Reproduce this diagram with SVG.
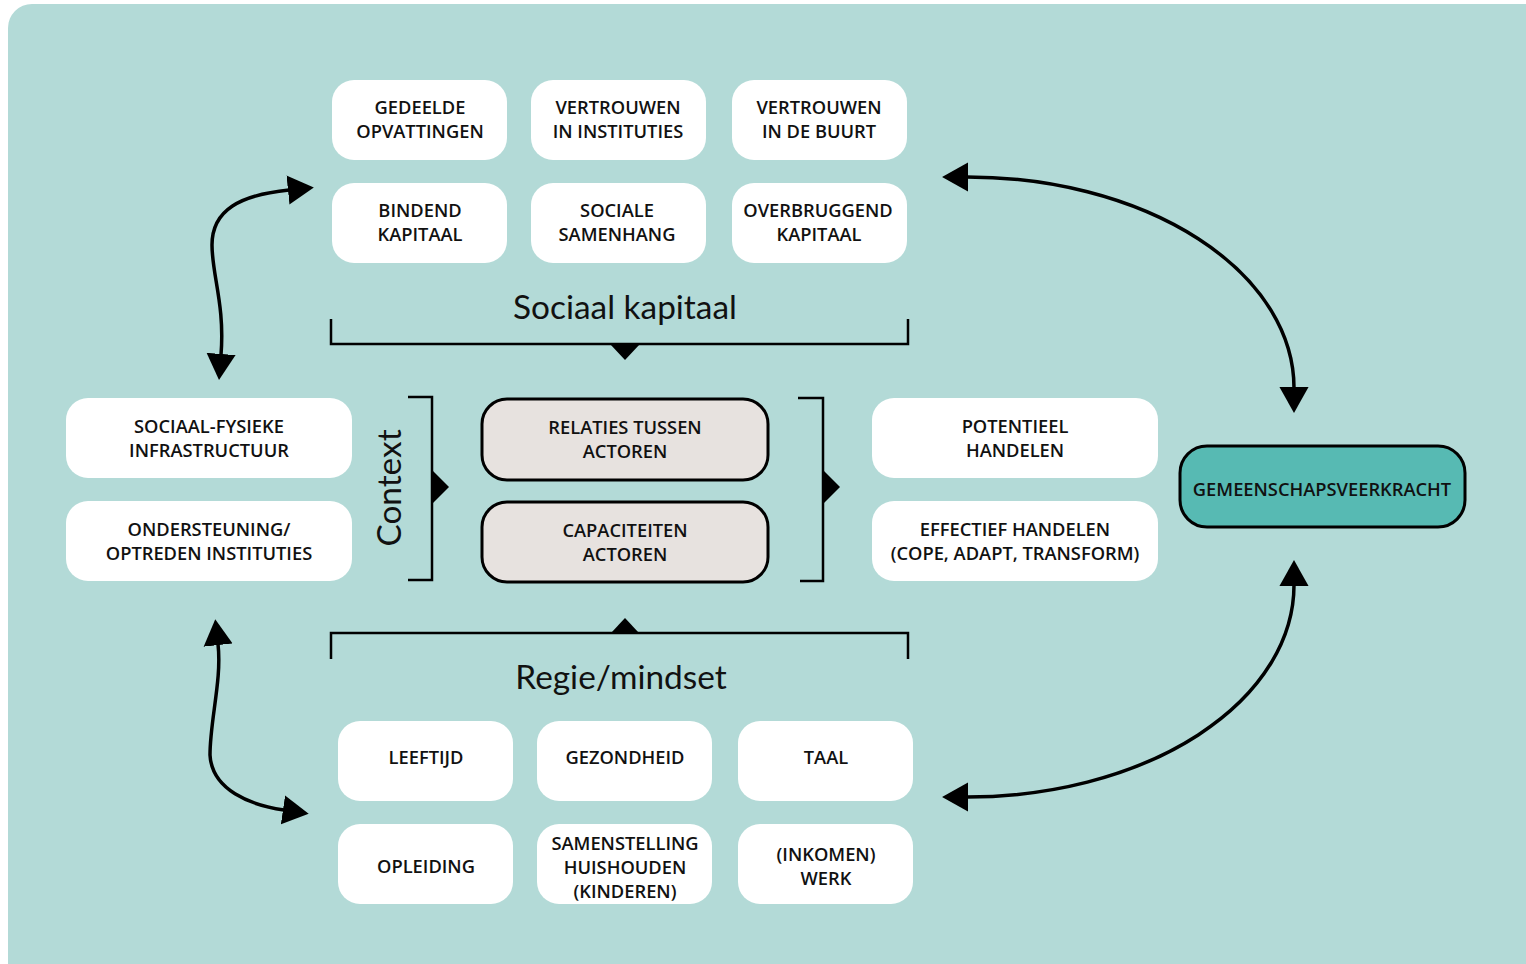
<svg xmlns="http://www.w3.org/2000/svg" width="1526" height="964" viewBox="0 0 1526 964">
<defs>
<style>
.bg{fill:#b3dad7}
.box{fill:#ffffff}
.core{fill:#e7e2df;stroke:#000;stroke-width:3}
.res{fill:#57bab3;stroke:#000;stroke-width:3}
.t{font-family:"Open Sans","Noto Sans",sans-serif;font-weight:600;font-size:18.3px;fill:#111;text-anchor:middle}
.h{font-family:"Lato","Noto Sans",sans-serif;font-weight:400;font-size:33.4px;fill:#111;text-anchor:middle}
.br{fill:none;stroke:#000;stroke-width:2.5}
.con{fill:none;stroke:#000;stroke-width:3.5}
</style>
<marker id="ah" markerUnits="userSpaceOnUse" markerWidth="26" markerHeight="30" viewBox="0 0 25 28" refX="1" refY="14" orient="auto-start-reverse">
<path d="M0,0 L25,14 L0,28 Z" fill="#000"/>
</marker>
</defs>
<rect class="bg" x="8" y="4" width="1545" height="990" rx="24"/>

<g id="sociaal-kapitaal-brace">
<text class="h" x="625" y="319">Sociaal kapitaal</text>
<path class="br" d="M331,319 V344 H908 V319"/>
<path d="M610,344 L640,344 L625,360 Z" fill="#000"/>
</g>
<g id="regie-brace">
<path class="br" d="M331,659 V633 H908 V659"/>
<path d="M611,633 L639,633 L625,618 Z" fill="#000"/>
<text class="h" x="621" y="689">Regie/mindset</text>
</g>
<g id="context-brace">
<text class="h" transform="translate(401,488) rotate(-90)" x="0" y="0">Context</text>
<path class="br" d="M408,397 H432 V580 H408"/>
<path d="M432,470 L449,487 L432,504 Z" fill="#000"/>
</g>
<g id="outcome-brace">
<path class="br" d="M798,398 H823 V581 H800"/>
<path d="M823,470 L840,487 L823,504 Z" fill="#000"/>
</g>

<g id="gedeelde-opvattingen"><rect class="box" x="332" y="80" width="175" height="80" rx="22"/><text class="t" x="420" y="113.5">GEDEELDE</text><text class="t" x="420" y="137.5">OPVATTINGEN</text></g>
<g id="vertrouwen-instituties"><rect class="box" x="531" y="80" width="175" height="80" rx="22"/><text class="t" x="618" y="113.5">VERTROUWEN</text><text class="t" x="618" y="137.5">IN INSTITUTIES</text></g>
<g id="vertrouwen-buurt"><rect class="box" x="732" y="80" width="175" height="80" rx="22"/><text class="t" x="819" y="113.5">VERTROUWEN</text><text class="t" x="819" y="137.5">IN DE BUURT</text></g>
<g id="bindend-kapitaal"><rect class="box" x="332" y="183" width="175" height="80" rx="22"/><text class="t" x="420" y="216.5">BINDEND</text><text class="t" x="420" y="240.5">KAPITAAL</text></g>
<g id="sociale-samenhang"><rect class="box" x="531" y="183" width="175" height="80" rx="22"/><text class="t" x="617" y="216.5">SOCIALE</text><text class="t" x="617" y="240.5">SAMENHANG</text></g>
<g id="overbruggend-kapitaal"><rect class="box" x="732" y="183" width="175" height="80" rx="22"/><text class="t" x="818" y="216.5">OVERBRUGGEND</text><text class="t" x="819" y="240.5">KAPITAAL</text></g>

<g id="sociaal-fysieke"><rect class="box" x="66" y="398" width="286" height="80" rx="22"/><text class="t" x="209" y="432.5">SOCIAAL-FYSIEKE</text><text class="t" x="209" y="456.5">INFRASTRUCTUUR</text></g>
<g id="ondersteuning"><rect class="box" x="66" y="501" width="286" height="80" rx="22"/><text class="t" x="209" y="535.5">ONDERSTEUNING/</text><text class="t" x="209" y="559.5">OPTREDEN INSTITUTIES</text></g>

<g id="relaties"><rect class="core" x="482" y="399" width="286" height="81" rx="25"/><text class="t" x="625" y="433.5">RELATIES TUSSEN</text><text class="t" x="625" y="457.5">ACTOREN</text></g>
<g id="capaciteiten"><rect class="core" x="482" y="502" width="286" height="80" rx="25"/><text class="t" x="625" y="536.5">CAPACITEITEN</text><text class="t" x="625" y="560.5">ACTOREN</text></g>

<g id="potentieel"><rect class="box" x="872" y="398" width="286" height="80" rx="22"/><text class="t" x="1015" y="432.5">POTENTIEEL</text><text class="t" x="1015" y="456.5">HANDELEN</text></g>
<g id="effectief"><rect class="box" x="872" y="501" width="286" height="80" rx="22"/><text class="t" x="1015" y="535.5">EFFECTIEF HANDELEN</text><text class="t" x="1015" y="559.5">(COPE, ADAPT, TRANSFORM)</text></g>

<g id="gemeenschapsveerkracht"><rect class="res" x="1180" y="446" width="285" height="81" rx="27"/><text class="t" x="1322" y="495.5">GEMEENSCHAPSVEERKRACHT</text></g>

<g id="leeftijd"><rect class="box" x="338" y="721" width="175" height="80" rx="22"/><text class="t" x="426" y="763.5">LEEFTIJD</text></g>
<g id="gezondheid"><rect class="box" x="537" y="721" width="175" height="80" rx="22"/><text class="t" x="625" y="763.5">GEZONDHEID</text></g>
<g id="taal"><rect class="box" x="738" y="721" width="175" height="80" rx="22"/><text class="t" x="826" y="763.5">TAAL</text></g>
<g id="opleiding"><rect class="box" x="338" y="824" width="175" height="80" rx="22"/><text class="t" x="426" y="872.5">OPLEIDING</text></g>
<g id="samenstelling"><rect class="box" x="537" y="824" width="175" height="80" rx="22"/><text class="t" x="625" y="849.5">SAMENSTELLING</text><text class="t" x="625" y="873.5">HUISHOUDEN</text><text class="t" x="625" y="897.5">(KINDEREN)</text></g>
<g id="inkomen-werk"><rect class="box" x="738" y="824" width="175" height="80" rx="22"/><text class="t" x="826" y="860.5">(INKOMEN)</text><text class="t" x="826" y="884.5">WERK</text></g>

<g id="connectors">
<path class="con" d="M967,177 A327,211 0 0 1 1294,388" marker-start="url(#ah)" marker-end="url(#ah)"/>
<path class="con" d="M967,797 A327,212 0 0 0 1294,585" marker-start="url(#ah)" marker-end="url(#ah)"/>
<path class="con" d="M289,190 C240,195 212,210 212,245 C212,275 225,305 221,355" marker-start="url(#ah)" marker-end="url(#ah)"/>
<path class="con" d="M218,644 C222,680 210,720 210,755 C212,790 250,805 284,810" marker-start="url(#ah)" marker-end="url(#ah)"/>
</g>
</svg>
